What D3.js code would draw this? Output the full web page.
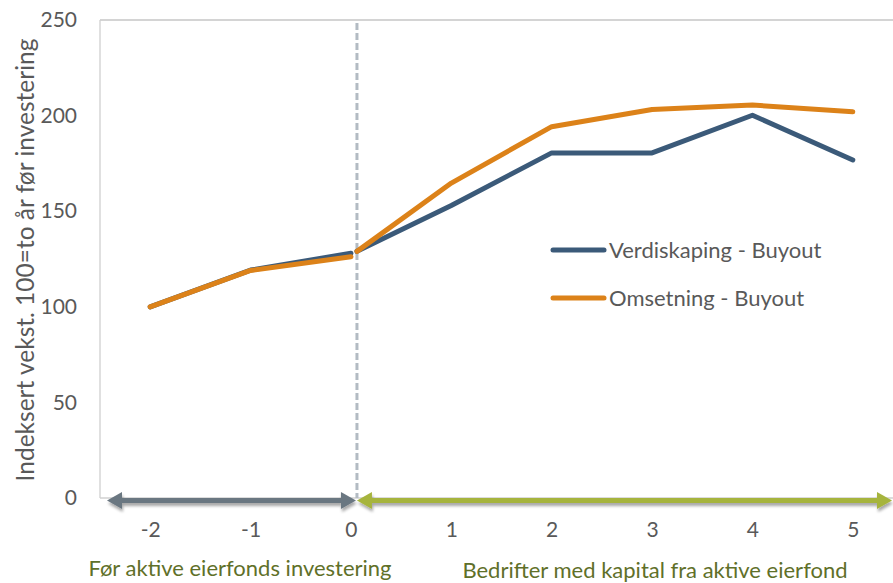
<!DOCTYPE html>
<html>
<head>
<meta charset="utf-8">
<script src="https://cdn.jsdelivr.net/npm/d3@7"></script>
<style>
  html, body { margin: 0; padding: 0; background: #fff; }
  svg { display: block; font-family: Lato, "Open Sans", sans-serif; }
</style>
</head>
<body>
<svg id="chart" width="893" height="583"></svg>
<script>
// Years relative to the investment year
const yearTicks = [-2, -1, 0, 1, 2, 3, 4, 5];
const yTicks = [0, 50, 100, 150, 200, 250];

// Before the investment (years -2..0)
const yearsBefore = [-2, -1, 0];
const verdiskapingBefore = [100, 119.2, 128];
const omsetningBefore = [100, 119, 126.2];

// After the investment: the first point sits on the investment moment
const investmentMoment = 0.06;
const yearsAfter = [investmentMoment, 1, 2, 3, 4, 5];
const verdiskapingAfter = [129, 153, 180.5, 180.5, 200.2, 176.8];
const omsetningAfter = [129, 164.7, 194.2, 203.2, 205.5, 202];

const seriesNames = ["Verdiskaping - Buyout", "Omsetning - Buyout"];
const seriesColors = ["#3b5a79", "#dc8219"];
const yLabel = "Indeksert vekst. 100=to år før investering";
const periodLabels = ["Før aktive eierfonds investering", "Bedrifter med kapital fra aktive eierfond"];

const svg = d3.select("#chart");
const plotLeft = 100, plotTop = 20, plotBottom = 498, plotRight = 903;

const x = d3.scaleLinear().domain([-2.5, 5.5]).range([plotLeft, plotRight]);
const y = d3.scaleLinear().domain([0, 250]).range([plotBottom, plotTop]);

// drop shadow for the period arrows
const defs = svg.append("defs");
const f = defs.append("filter").attr("id", "shadow")
  .attr("x", "-5%").attr("y", "-100%").attr("width", "110%").attr("height", "300%");
f.append("feGaussianBlur").attr("in", "SourceAlpha").attr("stdDeviation", 1.6).attr("result", "b");
f.append("feOffset").attr("in", "b").attr("dx", 1).attr("dy", 2.5).attr("result", "o");
f.append("feComponentTransfer").attr("in", "o").attr("result", "s")
  .append("feFuncA").attr("type", "linear").attr("slope", 0.35);
const fm = f.append("feMerge");
fm.append("feMergeNode").attr("in", "s");
fm.append("feMergeNode").attr("in", "SourceGraphic");

// plot frame: top border and axis lines
svg.append("line").attr("x1", plotLeft).attr("x2", 893).attr("y1", plotTop).attr("y2", plotTop)
  .attr("stroke", "#c6c6c6").attr("stroke-width", 1.3);
svg.append("line").attr("x1", plotLeft).attr("x2", plotLeft).attr("y1", plotTop).attr("y2", plotBottom)
  .attr("stroke", "#d0d0d0").attr("stroke-width", 1.3);
svg.append("line").attr("x1", plotLeft).attr("x2", 893).attr("y1", plotBottom).attr("y2", plotBottom)
  .attr("stroke", "#d0d0d0").attr("stroke-width", 1.3);

// y axis
const yAxis = svg.append("g").attr("transform", `translate(${plotLeft},0)`)
  .call(d3.axisLeft(y).tickValues(yTicks).tickSize(0).tickPadding(23));
yAxis.select(".domain").remove();
yAxis.selectAll("text").attr("font-size", 21).attr("fill", "#595959")
  .attr("font-family", "Lato, sans-serif");

// x axis labels (plain hyphen for negatives)
const xAxis = svg.append("g").attr("transform", `translate(0,${plotBottom})`)
  .call(d3.axisBottom(x).tickValues(yearTicks).tickSize(0).tickPadding(24).tickFormat(d => String(d)));
xAxis.select(".domain").remove();
xAxis.selectAll("text").attr("font-size", 21).attr("fill", "#595959")
  .attr("font-family", "Lato, sans-serif");

// investment divider
svg.append("line").attr("x1", x(investmentMoment)).attr("x2", x(investmentMoment))
  .attr("y1", plotTop + 3).attr("y2", plotBottom)
  .attr("stroke", "#b3bbc3").attr("stroke-width", 3).attr("stroke-dasharray", "7,3");

// y axis title
svg.append("text")
  .attr("transform", `translate(34,260) rotate(-90)`)
  .attr("text-anchor", "middle").attr("font-size", 24.5).attr("fill", "#595959")
  .text(yLabel);

// period arrows
function arrow(x1, x2, yy, color, both) {
  const g = svg.append("g").attr("filter", "url(#shadow)");
  const hl = 15, hh = 8.5;
  g.append("line").attr("x1", both ? x1 + hl - 2 : x1).attr("x2", x2 - hl + 2)
    .attr("y1", yy).attr("y2", yy).attr("stroke", color).attr("stroke-width", 5);
  g.append("path").attr("d", `M${x2},${yy} L${x2 - hl},${yy - hh} L${x2 - hl},${yy + hh} Z`).attr("fill", color);
  if (both) g.append("path").attr("d", `M${x1},${yy} L${x1 + hl},${yy - hh} L${x1 + hl},${yy + hh} Z`).attr("fill", color);
}
const arrowY = y(0) + 2.5;
arrow(x(-2.43), x(investmentMoment) - 1, arrowY, "#6b7781", true);
arrow(x(investmentMoment), 892, arrowY, "#a6b43d", true);

// series lines
const line = d3.line().x(d => x(d[0])).y(d => y(d[1]));
const segs = [
  [yearsBefore, verdiskapingBefore, 0], [yearsBefore, omsetningBefore, 1],
  [yearsAfter, verdiskapingAfter, 0], [yearsAfter, omsetningAfter, 1]
];
segs.forEach(([xs, vs, k]) => {
  svg.append("path").datum(d3.zip(xs, vs)).attr("d", line)
    .attr("fill", "none").attr("stroke", seriesColors[k]).attr("stroke-width", 5)
    .attr("stroke-linecap", "round").attr("stroke-linejoin", "round");
});

// legend
seriesNames.forEach((name, i) => {
  const ly = 250 + i * 48;
  svg.append("line").attr("x1", 553).attr("x2", 604).attr("y1", ly).attr("y2", ly)
    .attr("stroke", seriesColors[i]).attr("stroke-width", 5).attr("stroke-linecap", "round");
  svg.append("text").attr("x", 609).attr("y", ly).attr("dy", "0.35em")
    .attr("font-size", 22).attr("fill", "#595959").text(name);
});

// period captions
svg.append("text").attr("x", 240).attr("y", 576).attr("text-anchor", "middle")
  .attr("font-size", 22).attr("fill", "#5f7029").text(periodLabels[0]);
svg.append("text").attr("x", 655).attr("y", 578).attr("text-anchor", "middle")
  .attr("font-size", 22).attr("fill", "#5f7029").text(periodLabels[1]);
</script>
</body>
</html>
